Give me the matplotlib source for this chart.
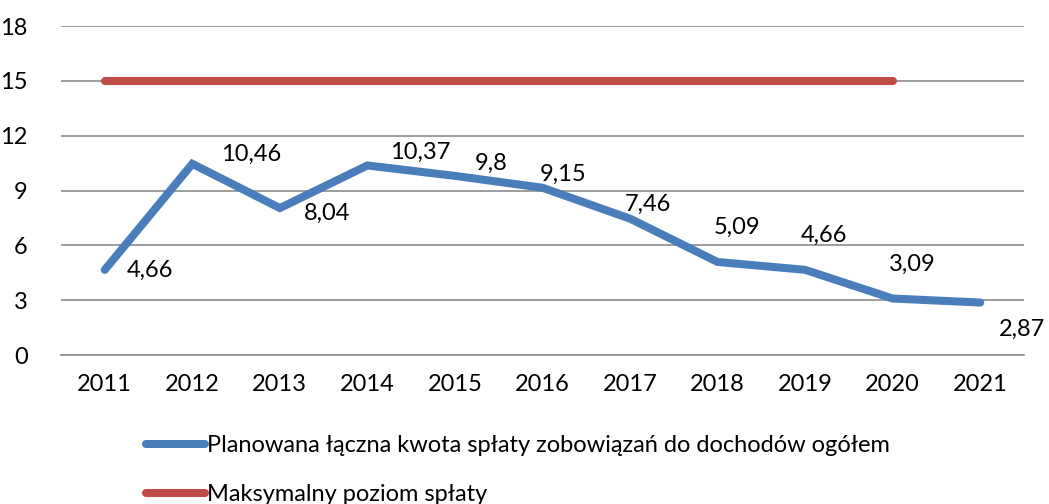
import matplotlib
matplotlib.use("Agg")
import matplotlib.pyplot as plt
import numpy as np

years = ["2011", "2012", "2013", "2014", "2015", "2016", "2017", "2018", "2019", "2020", "2021"]
planned = [4.66, 10.46, 8.04, 10.37, 9.8, 9.15, 7.46, 5.09, 4.66, 3.09, 2.87]
max_level = [15, 15, 15, 15, 15, 15, 15, 15, 15, 15]
planned_labels = ["4,66", "10,46", "8,04", "10,37", "9,8", "9,15", "7,46", "5,09", "4,66", "3,09", "2,87"]
y_ticks = [0, 3, 6, 9, 12, 15, 18]

# label centre offsets from the point, in pixels
label_offsets = [(45, -1), (59, 9), (47, -5), (53, 13), (36, 13), (21, 13), (18, 14),
                 (19, 35), (19, 34), (20, 34), (42, -27)]

plt.rcParams['font.family'] = ['Lato', 'DejaVu Sans']

blue = "#4a7ebb"
red = "#be4b48"

fig = plt.figure(figsize=(10.49, 5.04), dpi=100)
ax = fig.add_axes([61 / 1049, (504 - 355) / 504, (1024 - 61) / 1049, (355 - 26) / 504])

x = np.arange(len(years))
l1, = ax.plot(x, planned, color=blue, lw=5.8, solid_capstyle="round", solid_joinstyle="miter")
l2, = ax.plot(x[:len(max_level)], max_level, color=red, lw=5.8, solid_capstyle="round")

for xi, yi, txt, off in zip(x, planned, planned_labels, label_offsets):
    ax.annotate(txt, (xi, yi), xytext=off, textcoords="offset pixels",
                ha="center", va="center", fontsize=17, color="black")

ax.set_xlim(-0.5, len(years) - 0.5)
ax.set_ylim(0, 18)
ax.set_yticks(y_ticks)
ax.set_xticks(x)
ax.set_xticklabels(years)
ax.yaxis.grid(True, color="#8c8c8c", lw=1.2)
ax.set_axisbelow(True)
for s in ["left", "right", "top"]:
    ax.spines[s].set_visible(False)
ax.spines["bottom"].set_color("#8c8c8c")
ax.spines["bottom"].set_linewidth(1.2)
ax.tick_params(axis="both", length=0, labelsize=17, pad=14)
ax.tick_params(axis="y", pad=24)

fig.legend([l1, l2], ["Planowana łączna kwota spłaty zobowiązań do dochodów ogółem",
                      "Maksymalny poziom spłaty"],
           loc="upper left", bbox_to_anchor=(146 / 1049, 1 - 435 / 504), frameon=False,
           fontsize=17, handlelength=2.5, handletextpad=0.1, labelspacing=1.2,
           borderaxespad=0, borderpad=0)

fig.savefig("out.png", dpi=100)
